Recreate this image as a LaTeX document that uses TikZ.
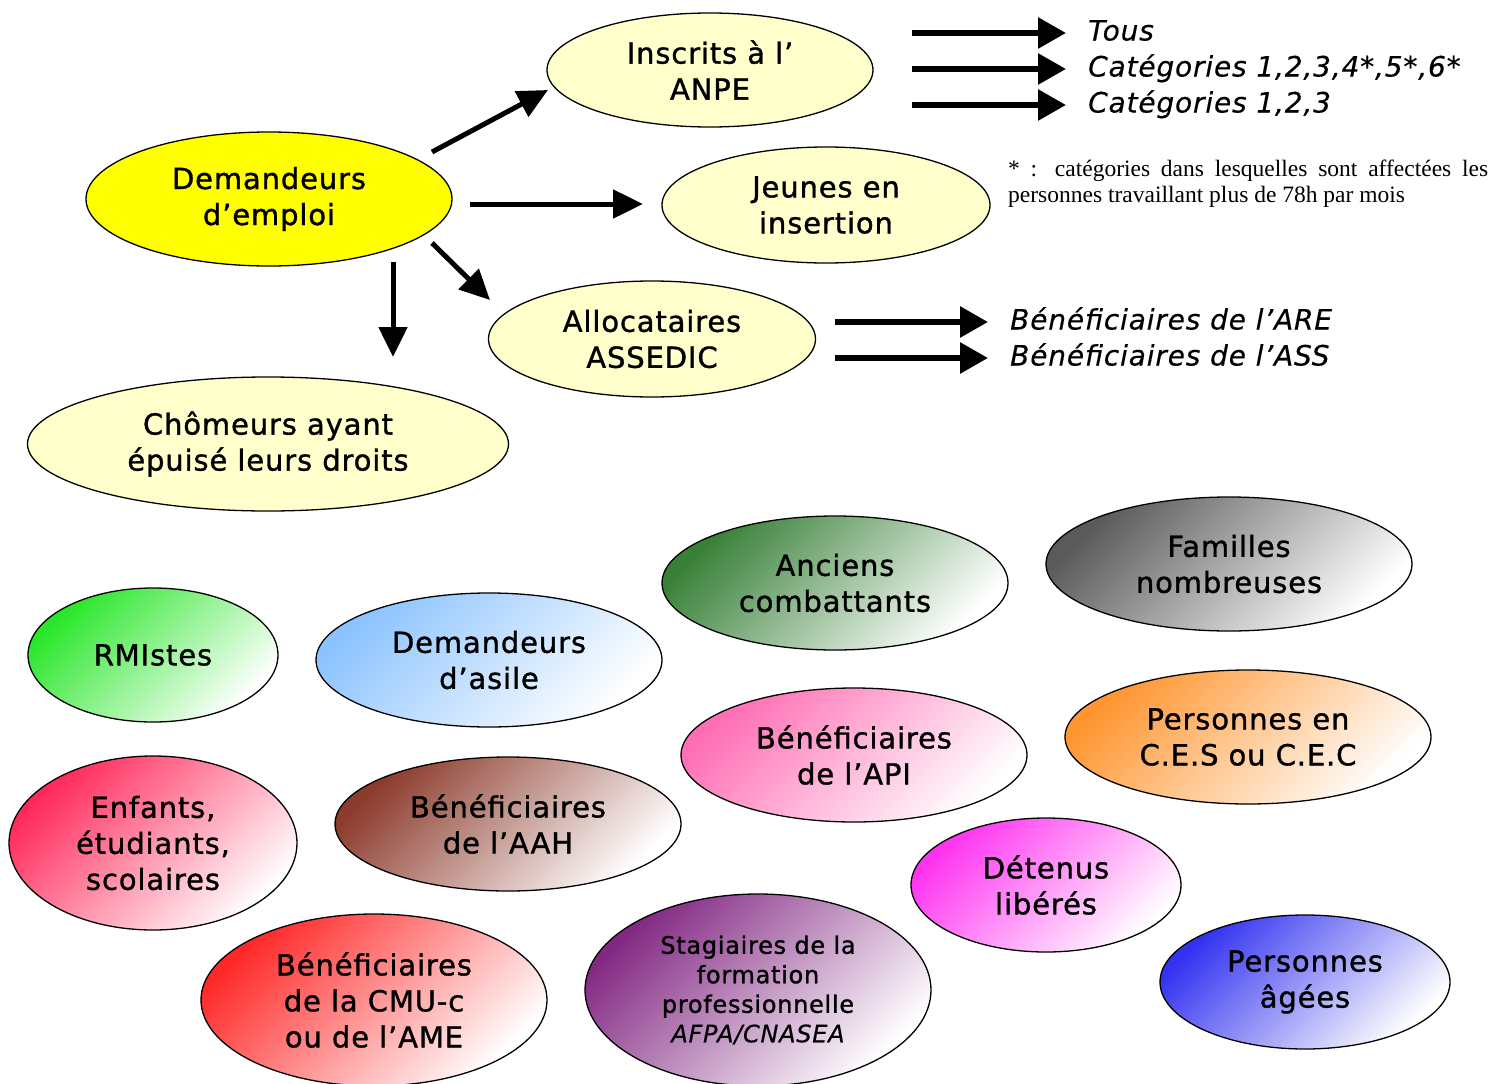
\documentclass[tikz,border=0pt]{standalone}
\usepackage{fontspec}
\setmainfont{DejaVu Sans}[LetterSpace=3,FakeBold=1.2]
\newfontfamily\itfont{DejaVu Sans}[LetterSpace=3,FakeBold=0.4]
\newfontfamily\fnfont{Liberation Serif}
\usetikzlibrary{shapes.geometric,arrows.meta,calc}
\definecolor{paleyellow}{HTML}{FFFFCC}
\definecolor{pureyellow}{RGB}{255,255,0}
\definecolor{cAnc}{RGB}{56,128,56}
\definecolor{cFam}{RGB}{90,90,90}
\definecolor{cRmi}{RGB}{40,230,40}
\definecolor{cAsi}{RGB}{140,195,255}
\definecolor{cApi}{RGB}{255,110,180}
\definecolor{cCes}{RGB}{255,150,50}
\definecolor{cEnf}{RGB}{255,40,90}
\definecolor{cAah}{RGB}{140,60,45}
\definecolor{cDet}{RGB}{255,50,240}
\definecolor{cAge}{RGB}{50,50,240}
\definecolor{cCmu}{RGB}{255,40,40}
\definecolor{cSta}{RGB}{130,40,130}
\begin{document}
\begin{tikzpicture}[x=1pt,y=-1pt,
  lbl/.style={font=\fontsize{29}{36}\selectfont, align=center, inner sep=0pt},
  ell/.style={ellipse, draw=black, line width=1.3pt, inner sep=0pt, lbl},
  pale/.style={ell, fill=paleyellow},
  grad/.style={ell, top color=#1, bottom color=white, middle color=#1!50!white, shading angle=45},
  arr/.style={line width=5pt, -{Triangle[length=30pt,width=28pt]}},
  arrb/.style={line width=6pt, -{Triangle[length=28pt,width=30pt]}},
  ital/.style={font=\itfont\fontsize{28}{34}\selectfont\itshape, anchor=west, inner sep=0pt, text height=21pt, text depth=6pt},
  fnote/.style={font=\fnfont\fontsize{23.5}{26}\selectfont, inner sep=0pt, anchor=north west, text width=480pt, align=justify}
]
\useasboundingbox (0,0) rectangle (1492,1084);
\fill[white] (0,0) rectangle (1492,1084);

% top part
\node[ell, fill=pureyellow, minimum width=366, minimum height=134] (dem) at (269,199) {Demandeurs\\d’emploi};
\node[pale, minimum width=326, minimum height=114] (ins) at (710,70) {Inscrits à l’\\ANPE};
\node[pale, minimum width=328, minimum height=116] (jeu) at (826,205) {Jeunes en\\insertion};
\node[pale, minimum width=327, minimum height=116] (all) at (652,339) {Allocataires\\ASSEDIC};
\node[pale, minimum width=481, minimum height=134] (cho) at (268,444) {Chômeurs ayant\\épuisé leurs droits};

\draw[arr] ($(dem.center)+(163,-47)$) -- ($(ins.center)+(-162,20)$);
\draw[arr] ($(dem.center)+(201,5)$) -- ($(jeu.center)+(-183,-1)$);
\draw[arr] ($(dem.center)+(163,44)$) -- ($(all.center)+(-162,-39)$);
\draw[arr] ($(dem.center)+(124,63)$) -- ($(cho.center)+(125,-87)$);

\node[ital] (tous) at (1088,33) {Tous};
\node[ital] (cat6) at (1088,69) {Catégories 1,2,3,4*,5*,6*};
\node[ital] (cat3) at (1088,105) {Catégories 1,2,3};
\draw[arrb] ([xshift=-176pt]tous.west) -- ([xshift=-22pt]tous.west);
\draw[arrb] ([xshift=-176pt]cat6.west) -- ([xshift=-22pt]cat6.west);
\draw[arrb] ([xshift=-176pt]cat3.west) -- ([xshift=-22pt]cat3.west);

\node[ital] (are) at (1010,322) {Bénéficiaires de l’ARE};
\node[ital] (ass) at (1010,358) {Bénéficiaires de l’ASS};
\draw[arrb] ([xshift=-175pt]are.west) -- ([xshift=-22pt]are.west);
\draw[arrb] ([xshift=-175pt]ass.west) -- ([xshift=-22pt]ass.west);

\node[fnote] (fn) at (1008,160) {* : catégories dans lesquelles sont affectées les\linebreak personnes travaillant plus de 78h par mois};

% bottom part
\node[grad=cAnc, minimum width=346, minimum height=134] (anc) at (835,583) {Anciens\\combattants};
\node[grad=cFam, minimum width=366, minimum height=134] (fam) at (1229,564) {Familles\\nombreuses};
\node[grad=cRmi, minimum width=250, minimum height=134] (rmi) at (153,655) {RMIstes};
\node[grad=cAsi, minimum width=346, minimum height=134] (asi) at (489,660) {Demandeurs\\d’asile};
\node[grad=cApi, minimum width=346, minimum height=134] (api) at (854,755) {Bénéficiaires\\de l’API};
\node[grad=cCes, minimum width=366, minimum height=134] (ces) at (1248,737) {Personnes en\\C.E.S ou C.E.C};
\node[grad=cEnf, minimum width=288, minimum height=174] (enf) at (153,843) {Enfants,\\étudiants,\\scolaires};
\node[grad=cAah, minimum width=346, minimum height=134] (aah) at (508,824) {Bénéficiaires\\de l’AAH};
\node[grad=cDet, minimum width=270, minimum height=134] (det) at (1046,885) {Détenus\\libérés};
\node[grad=cAge, minimum width=290, minimum height=134] (age) at (1305,982) {Personnes\\âgées};
\node[grad=cCmu, minimum width=346, minimum height=172] (cmu) at (374,1000) {Bénéficiaires\\de la CMU-c\\ou de l’AME};
\node[grad=cSta, minimum width=346, minimum height=192, font=\fontsize{24}{29.5}\selectfont] (sta) at (758,990) {Stagiaires de la\\formation\\professionnelle\\{\itfont\itshape AFPA/CNASEA}};
\end{tikzpicture}
\end{document}
